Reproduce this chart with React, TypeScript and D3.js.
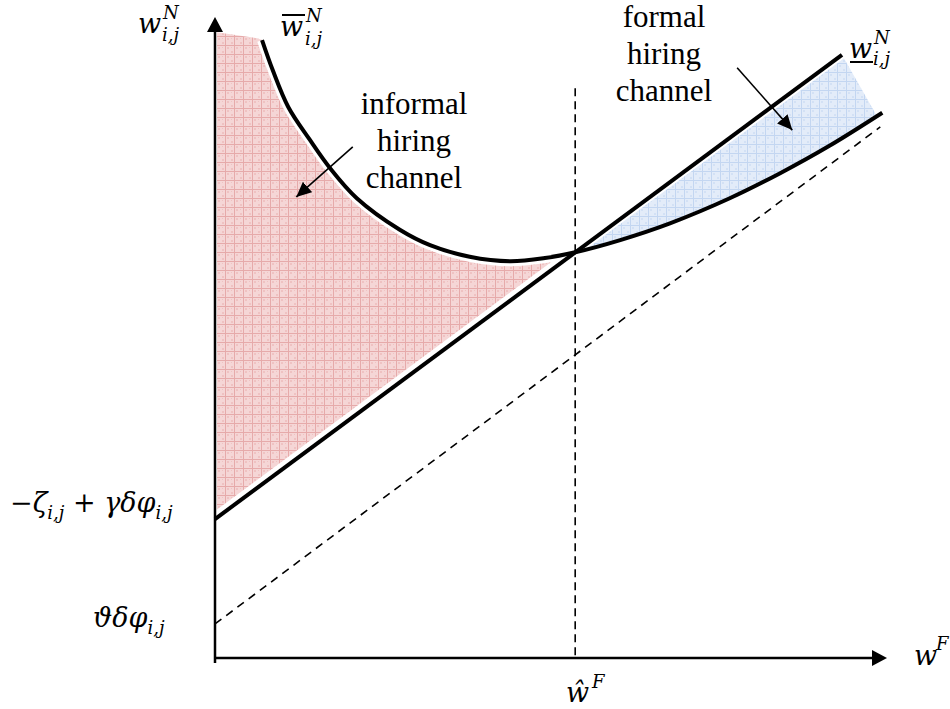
import React from 'react';
import * as d3 from 'd3';

// formal wage w^F (x) and informal wage w^N (y), arbitrary units 0..100
const curveWF = [7.0, 8.6, 10.9, 14.1, 17.1, 21.1, 27.5, 32.0, 37.9, 43.9, 49.1, 53.6, 60.3, 67.7, 76.6, 84.1, 91.5, 99.3];
const curveWN = [96.1, 91.4, 85.7, 80.6, 76.2, 71.5, 66.6, 64.2, 62.4, 61.7, 62.2, 63.1, 65.0, 67.6, 71.5, 75.4, 79.7, 84.8];

const lineWF = [0, 93.3];
const lineWN = [21.6, 93.8];

const dashedWF = [0, 99.0];
const dashedWN = [5.3, 82.6];

const hatWF = 53.6;
const hatTopWN = 88.6;

// corner of the informal region next to the vertical axis
const informalCornerWF = [0.3, 6.3];
const informalCornerWN = [97.3, 96.4];
// right edge of the formal region
const formalEdgeWF = [98.5];
const formalEdgeWN = [84.3];

// annotation arrows: [from, to]
const informalArrow = [[20.5, 79.5], [12.1, 71.7]];
const formalArrow = [[77.7, 91.8], [85.9, 82.1]];

const informalLabel = ['informal', 'hiring', 'channel'];
const formalLabel = ['formal', 'hiring', 'channel'];

const W = 950;
const H = 709;

const x = d3.scaleLinear().domain([0, 100]).range([215, 887]);
const y = d3.scaleLinear().domain([0, 100]).range([658, 15]);

const lineAt = (wf: number) =>
  lineWN[0] + ((lineWN[1] - lineWN[0]) * (wf - lineWF[0])) / (lineWF[1] - lineWF[0]);

type P = [number, number];
const curvePts: P[] = curveWF.map((d, i) => [d, curveWN[i]]);

const smooth = d3.line<P>().x(d => x(d[0])).y(d => y(d[1])).curve(d3.curveCatmullRom.alpha(0.5));
const straight = d3.line<P>().x(d => x(d[0])).y(d => y(d[1]));

const App = () => {
  const leftCurve = curvePts.filter(d => d[0] <= hatWF);
  const rightCurve = curvePts.filter(d => d[0] >= hatWF);

  const informalPoly: P[] = [
    ...informalCornerWF.map((d, i) => [d, informalCornerWN[i]] as P),
    ...leftCurve,
    [hatWF, lineAt(hatWF)],
    [informalCornerWF[0], lineAt(informalCornerWF[0])],
  ];
  const formalPoly: P[] = [
    [hatWF, lineAt(hatWF)],
    [lineWF[1], lineWN[1]],
    ...formalEdgeWF.map((d, i) => [d, formalEdgeWN[i]] as P),
    ...rightCurve.slice().reverse(),
  ];

  const textFont = "'Liberation Serif', 'Times New Roman', serif";
  const mathFont = "'DejaVu Serif', serif";
  const big = 27;
  const small = 18;

  return (
    <svg width={W} height={H} style={{ position: 'absolute', left: 0, top: 0, background: '#fff' }}>
      <defs>
        <pattern id="redGrid" width="9" height="9" patternUnits="userSpaceOnUse">
          <rect width="9" height="9" fill="#f5d6d6" />
          <rect x="2" y="2" width="2" height="2" fill="#efc2c2" />
          <rect x="6" y="6" width="2" height="2" fill="#efc2c2" />
          <rect x="6" y="2" width="1" height="1" fill="#efc2c2" />
          <path d="M0,0.5H9M0.5,0V9" stroke="#e6aaaa" strokeWidth="1" />
        </pattern>
        <pattern id="blueGrid" width="9" height="9" patternUnits="userSpaceOnUse">
          <rect width="9" height="9" fill="#e3ecf9" />
          <rect x="2" y="2" width="2" height="2" fill="#d3e1f5" />
          <rect x="6" y="6" width="2" height="2" fill="#d3e1f5" />
          <path d="M0,0.5H9M0.5,0V9" stroke="#c3d6f1" strokeWidth="1" />
        </pattern>
        <marker id="axisHead" viewBox="0 0 15 16" refX="0" refY="8" markerWidth="15" markerHeight="16"
          markerUnits="userSpaceOnUse" orient="auto">
          <path d="M0,0L15,8L0,16Z" fill="#000" />
        </marker>
        <marker id="noteHead" viewBox="0 0 15 14" refX="15" refY="7" markerWidth="15" markerHeight="14"
          markerUnits="userSpaceOnUse" orient="auto">
          <path d="M0,0L15,7L0,14Z" fill="#000" />
        </marker>
      </defs>

      {/* shaded channels */}
      <path d={straight(informalPoly) + 'Z'} fill="url(#redGrid)" />
      <path d={straight(formalPoly) + 'Z'} fill="url(#blueGrid)" />

      {/* white gaps */}
      <path d={smooth(leftCurve) || ''} fill="none" stroke="#fff" strokeWidth={10} />
      <path d={straight([[0, lineAt(0)], [hatWF, lineAt(hatWF)]]) || ''} fill="none" stroke="#fff" strokeWidth={13} />
      <path d={straight([[hatWF, lineAt(hatWF)], [lineWF[1], lineWN[1]]]) || ''} fill="none" stroke="#fff" strokeWidth={8} />

      {/* dashed guides */}
      <path d={straight([[dashedWF[0], dashedWN[0]], [dashedWF[1], dashedWN[1]]]) || ''}
        fill="none" stroke="#000" strokeWidth={1.6} strokeDasharray="8,6" />
      <line x1={x(hatWF)} x2={x(hatWF)} y1={y(hatTopWN)} y2={y(0)} stroke="#000" strokeWidth={1.6} strokeDasharray="8,5" />

      {/* main curves */}
      <path d={straight([[lineWF[0], lineWN[0]], [lineWF[1], lineWN[1]]]) || ''} fill="none" stroke="#000" strokeWidth={4} />
      <path d={smooth(curvePts) || ''} fill="none" stroke="#000" strokeWidth={4} />

      {/* axes */}
      <line x1={x(0)} x2={x(0)} y1={y(0) + 5} y2={y(100) + 17} stroke="#000" strokeWidth={2.5} markerEnd="url(#axisHead)" />
      <line x1={x(0) - 1} x2={x(100) - 15} y1={y(0)} y2={y(0)} stroke="#000" strokeWidth={2.5} markerEnd="url(#axisHead)" />

      {/* annotation arrows */}
      {[informalArrow, formalArrow].map((a, i) => (
        <line key={i} x1={x(a[0][0])} y1={y(a[0][1])} x2={x(a[1][0])} y2={y(a[1][1])}
          stroke="#000" strokeWidth={1.6} markerEnd="url(#noteHead)" />
      ))}

      {/* channel labels */}
      <g fontFamily={textFont} fontSize={31} textAnchor="middle" fill="#000">
        {informalLabel.map((t, i) => (
          <text key={t} x={414} y={114 + i * 37}>{t}</text>
        ))}
        {formalLabel.map((t, i) => (
          <text key={t} x={664} y={27 + i * 37}>{t}</text>
        ))}
      </g>

      {/* math labels */}
      <g fontFamily={mathFont} fontStyle="italic" fill="#000">
        <text x={138} y={33} fontSize={big}>w</text>
        <text x={163} y={19} fontSize={small}>N</text>
        <text x={162} y={41} fontSize={small}>i,j</text>

        <text x={280} y={36} fontSize={big}>w</text>
        <line x1={282} x2={305} y1={15} y2={15} stroke="#000" strokeWidth={2} />
        <text x={306} y={22} fontSize={small}>N</text>
        <text x={305} y={45} fontSize={small}>i,j</text>

        <text x={849} y={58} fontSize={big}>w</text>
        <line x1={850} x2={873} y1={62} y2={62} stroke="#000" strokeWidth={2} />
        <text x={874} y={44} fontSize={small}>N</text>
        <text x={873} y={65} fontSize={small}>i,j</text>

        <text x={10} y={512} fontSize={big}>
          <tspan fontStyle="normal">−</tspan>ζ
          <tspan fontSize={small} dy={7}>i,j</tspan>
          <tspan dy={-7} fontStyle="normal"> + </tspan>
          <tspan>γδφ</tspan>
          <tspan fontSize={small} dy={7}>i,j</tspan>
        </text>

        <text x={93} y={627} fontSize={big}>
          ϑδφ<tspan fontSize={small} dy={7}>i,j</tspan>
        </text>

        <text x={566} y={702} fontSize={big}>ŵ</text>
        <text x={592} y={688} fontSize={small}>F</text>

        <text x={914} y={665} fontSize={big}>w</text>
        <text x={936} y={650} fontSize={small}>F</text>
      </g>
    </svg>
  );
};

export default App;
